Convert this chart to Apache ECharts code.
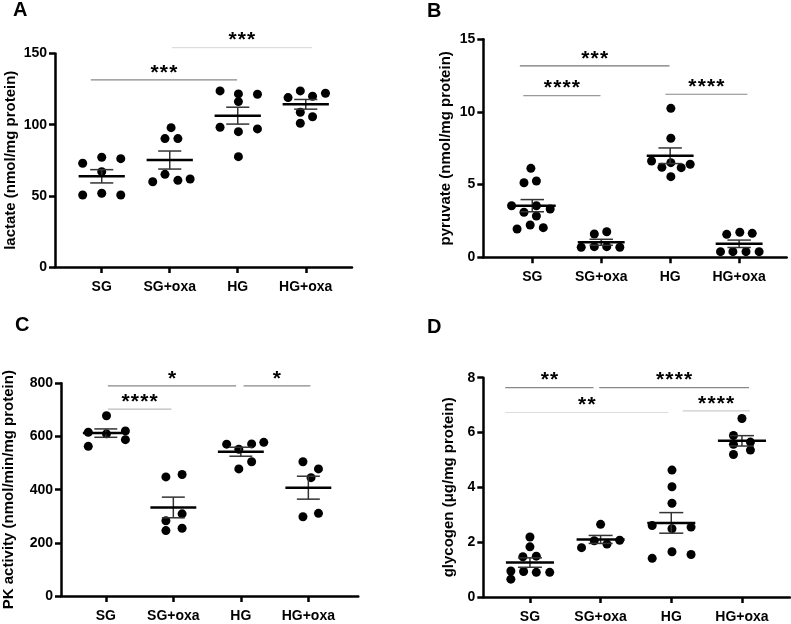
<!DOCTYPE html>
<html>
<head>
<meta charset="utf-8">
<script src="https://cdn.jsdelivr.net/npm/echarts@6/dist/echarts.min.js"></script>
<style>
  html, body { margin: 0; padding: 0; background: #fff; }
  #chart { width: 791px; height: 624px; }
</style>
</head>
<body>
<div id="chart"></div>
<script>
const groups = ['SG', 'SG+oxa', 'HG', 'HG+oxa'];

// every dot is [jitter from the group centre, value]
const lactateSG = [[-0.28, 72.9], [0, 77.1], [0.28, 76.1], [0, 67.0], [-0.28, 50.6], [0, 51.8], [0.28, 50.6]];
const lactateSGoxa = [[-0.25, 59.9], [-0.07, 65.1], [0.12, 60.9], [0.30, 61.8], [-0.07, 90.2], [0.12, 90.2], [0.02, 97.9]];
const lactateHG = [[-0.26, 123.7], [0.01, 121.6], [0.29, 121.4], [0.01, 116.2], [-0.26, 98.2], [0.01, 95.1], [0.29, 97.0], [0.01, 77.5]];
const lactateHGoxa = [[-0.26, 119.0], [-0.08, 123.7], [0.10, 120.0], [0.29, 122.1], [-0.08, 108.7], [0.10, 105.6], [-0.08, 101.0]];

const pyruvateSG = [[-0.02, 6.12], [-0.12, 5.13], [0.06, 5.25], [-0.30, 3.55], [-0.12, 3.10], [0.06, 3.55], [0.26, 3.32], [0.06, 2.84], [-0.22, 1.95], [-0.03, 2.22], [0.16, 2.04]];
const pyruvateSGoxa = [[-0.10, 1.60], [0.08, 1.76], [-0.29, 0.69], [-0.10, 0.73], [0.08, 0.73], [0.27, 0.69]];
const pyruvateHG = [[0.01, 10.25], [0.01, 8.19], [-0.27, 6.63], [-0.12, 6.19], [0.01, 6.51], [0.16, 6.17], [0.29, 6.40], [0.01, 5.55]];
const pyruvateHGoxa = [[-0.18, 1.58], [0.01, 1.72], [0.19, 1.65], [-0.27, 0.39], [-0.09, 0.39], [0.10, 0.39], [0.29, 0.39]];

const pkSG = [[0.01, 678], [-0.26, 616], [0.01, 610], [0.29, 621], [-0.26, 563], [0.29, 588]];
const pkSGoxa = [[-0.11, 448], [0.13, 457], [-0.11, 283], [0.13, 309], [-0.11, 246], [0.13, 255]];
const pkHG = [[-0.21, 571], [-0.03, 552], [0.16, 572], [0.34, 578], [-0.03, 478], [0.16, 505]];
const pkHGoxa = [[-0.08, 505], [0.15, 478], [0.04, 445], [-0.08, 298], [0.15, 311]];

const glycogenSG = [[0, 2.19], [0, 1.83], [-0.10, 1.47], [0.09, 1.49], [-0.27, 0.95], [-0.09, 0.93], [0.09, 0.90], [0.28, 0.90], [-0.27, 0.65]];
const glycogenSGoxa = [[-0.27, 1.80], [0, 2.65], [-0.09, 2.05], [0.09, 1.93], [0.27, 2.07]];
const glycogenHG = [[0.01, 4.63], [0.01, 4.02], [0.01, 3.42], [-0.27, 2.61], [0.01, 2.49], [0.28, 2.55], [-0.27, 1.41], [0.01, 1.65], [0.28, 1.55]];
const glycogenHGoxa = [[0, 6.51], [-0.12, 5.89], [-0.12, 5.57], [0.12, 5.65], [-0.12, 5.20], [0.12, 5.36]];

// significance bars: [from x, to x, height, stars]
const lactateBrackets = [[0.84, 2.99, 131.4, '***'], [2.03, 4.09, 154.1, '***']];
const pyruvateBrackets = [[0.82, 2.99, 13.17, '***'], [0.87, 1.99, 11.12, '****'], [2.93, 4.12, 11.22, '****']];
const pkBrackets = [[1.03, 2.93, 790, '*'], [3.04, 4.03, 790, '*'], [1.03, 1.97, 703, '****']];
const glycogenBrackets = [[0.65, 1.90, 7.64, '**'], [1.98, 4.10, 7.64, '****'], [0.65, 2.96, 6.73, '**'], [3.16, 4.11, 6.79, '****']];

const panels = [
  { letter: 'A', title: 'lactate (nmol/mg protein)', dots: [lactateSG, lactateSGoxa, lactateHG, lactateHGoxa],
    brackets: lactateBrackets, shades: ['#888', '#ddd'], yMax: 150, yStep: 50, xMin: 0.313, xMax: 4.68,
    grid: { left: 55, top: 53.5, width: 297, height: 213.5 }, nameGap: 37, letterAt: [13, 0] },
  { letter: 'B', title: 'pyruvate (nmol/mg protein)', dots: [pyruvateSG, pyruvateSGoxa, pyruvateHG, pyruvateHGoxa],
    brackets: pyruvateBrackets, shades: ['#777', '#999', '#888'], yMax: 15, yStep: 5, xMin: 0.29, xMax: 4.69,
    grid: { left: 483.3, top: 39.3, width: 303.4, height: 218 }, nameGap: 30, letterAt: [427, 1] },
  { letter: 'C', title: 'PK activity (nmol/min/mg protein)', dots: [pkSG, pkSGoxa, pkHG, pkHGoxa],
    brackets: pkBrackets, shades: ['#888', '#888', '#bbb'], yMax: 800, yStep: 200, xMin: 0.336, xMax: 4.74,
    grid: { left: 60, top: 383.3, width: 298.3, height: 212.7 }, nameGap: 45, letterAt: [15, 315] },
  { letter: 'D', title: 'glycogen (\u03bcg/mg protein)', dots: [glycogenSG, glycogenSGoxa, glycogenHG, glycogenHGoxa],
    brackets: glycogenBrackets, shades: ['#888', '#888', '#ddd', '#ccc'], yMax: 8, yStep: 2, xMin: 0.34, xMax: 4.68,
    grid: { left: 483.3, top: 377.7, width: 306.7, height: 221.3 }, nameGap: 27, letterAt: [427, 317] }
];

const chart = echarts.init(document.getElementById('chart'), null, { renderer: 'canvas' });

const grids = [], xAxes = [], yAxes = [], titles = [], series = [];
const axisColor = '#000';
const starStep = 9.3;

panels.forEach((p, i) => {
  grids.push(p.grid);
  titles.push({
    text: p.letter, left: p.letterAt[0], top: p.letterAt[1], padding: 0,
    textStyle: { fontSize: 20, fontWeight: 'bold', color: '#000' }
  });
  xAxes.push({
    type: 'value', gridIndex: i, min: p.xMin, max: p.xMax,
    axisLine: { onZero: false, lineStyle: { color: axisColor, width: 2.5 } },
    axisTick: { show: true, customValues: [1, 2, 3, 4], length: 6, lineStyle: { color: axisColor, width: 2.5 } },
    axisLabel: {
      customValues: [1, 2, 3, 4], formatter: v => groups[Math.round(v) - 1],
      fontSize: 14, fontWeight: 'bold', color: '#000', margin: 13
    },
    splitLine: { show: false }
  });
  yAxes.push({
    type: 'value', gridIndex: i, min: 0, max: p.yMax, interval: p.yStep,
    name: p.title, nameLocation: 'middle', nameRotate: 90, nameGap: p.nameGap,
    nameTextStyle: { fontSize: 15, fontWeight: 'bold', color: '#000' },
    axisLine: { show: true, onZero: false, lineStyle: { color: axisColor, width: 2.5 } },
    axisTick: { show: true, length: 6, lineStyle: { color: axisColor, width: 2.5 } },
    axisLabel: { fontSize: 14, fontWeight: 'bold', color: '#000', margin: 8 },
    splitLine: { show: false }
  });

  // dots
  let pts = [];
  p.dots.forEach((grp, g) => {
    grp.forEach(d => pts.push([g + 1 + d[0], d[1]]));
  });
  series.push({
    type: 'scatter', xAxisIndex: i, yAxisIndex: i, data: pts,
    symbolSize: 9, itemStyle: { color: '#000', opacity: 1 }, silent: true, z: 2
  });

  // mean +/- SEM
  let stats = p.dots.map((grp, g) => {
    let vals = grp.map(d => d[1]);
    let n = vals.length;
    let mean = vals.reduce((a, b) => a + b, 0) / n;
    let sd = Math.sqrt(vals.reduce((a, b) => a + (b - mean) * (b - mean), 0) / (n - 1));
    return [g + 1, mean, sd / Math.sqrt(n)];
  });
  series.push({
    type: 'custom', xAxisIndex: i, yAxisIndex: i, data: stats, z: 3, silent: true,
    encode: { x: 0, y: 1 },
    renderItem: (params, api) => {
      let x = api.value(0), m = api.value(1), s = api.value(2);
      let l = api.coord([x - 0.34, m]), r = api.coord([x + 0.34, m]);
      let t = api.coord([x, m + s]), b = api.coord([x, m - s]);
      let tl = api.coord([x - 0.17, m + s]), tr = api.coord([x + 0.17, m + s]);
      let bl = api.coord([x - 0.17, m - s]), br = api.coord([x + 0.17, m - s]);
      let thin = { stroke: '#333', lineWidth: 1.5 };
      return {
        type: 'group',
        children: [
          { type: 'line', shape: { x1: t[0], y1: t[1], x2: b[0], y2: b[1] }, style: thin },
          { type: 'line', shape: { x1: tl[0], y1: tl[1], x2: tr[0], y2: tr[1] }, style: thin },
          { type: 'line', shape: { x1: bl[0], y1: bl[1], x2: br[0], y2: br[1] }, style: thin },
          { type: 'line', shape: { x1: l[0], y1: l[1], x2: r[0], y2: r[1] }, style: { stroke: '#000', lineWidth: 2.5 } }
        ]
      };
    }
  });

  // significance bars
  series.push({
    type: 'custom', xAxisIndex: i, yAxisIndex: i, clip: false, silent: true, z: 4,
    data: p.brackets.map(b => [b[0], b[1], b[2]]),
    encode: { x: [0, 1], y: 2 },
    renderItem: (params, api) => {
      let b = p.brackets[params.dataIndex];
      let a = api.coord([b[0], b[2]]), c = api.coord([b[1], b[2]]);
      let mid = (a[0] + c[0]) / 2;
      let n = b[3].length;
      let kids = [
        { type: 'line', shape: { x1: a[0], y1: a[1], x2: c[0], y2: a[1] },
          style: { stroke: p.shades[params.dataIndex], lineWidth: 1.2 } }
      ];
      for (let k = 0; k < n; k++) {
        kids.push({
          type: 'text', x: mid + (k - (n - 1) / 2) * starStep, y: a[1] - 7,
          style: { text: '*', font: 'bold 21px "Liberation Sans", Arial',
                   fill: '#000', align: 'center', verticalAlign: 'middle' }
        });
      }
      return { type: 'group', children: kids };
    }
  });
});

chart.setOption({
  backgroundColor: '#fff',
  animation: false,
  textStyle: { fontFamily: '"Liberation Sans", Arial, sans-serif' },
  title: titles,
  grid: grids,
  xAxis: xAxes,
  yAxis: yAxes,
  series: series
});
</script>
</body>
</html>
